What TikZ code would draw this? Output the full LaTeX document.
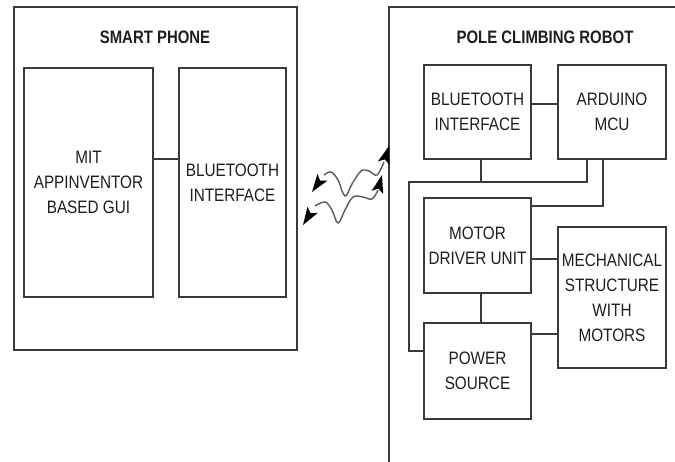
\documentclass[tikz,border=0pt]{standalone}
\usepackage{fontspec}
\setmainfont{Liberation Sans}[FakeStretch=0.85]
\newfontfamily\ttlfont{Liberation Sans}[FakeStretch=0.83]
\usetikzlibrary{arrows.meta,calc}
\definecolor{linec}{HTML}{3A3A3A}
\definecolor{txtc}{HTML}{1E1E1E}
\definecolor{wavec}{HTML}{5A5A5A}
\newcommand\myhead[2]{%
  \fill[black] (#1) -- ($($(#1)!18pt!(#2)$)!6pt!90:(#1)$) -- ($(#1)!14pt!(#2)$) -- ($($(#1)!18pt!(#2)$)!6pt!-90:(#1)$) -- cycle;}
\begin{document}
\begin{tikzpicture}[x=1pt,y=-1pt,
  blk/.style={draw=linec, line width=1.3pt, inner sep=0pt, align=center, text=txtc,
    font=\fontsize{18}{25}\selectfont},
  ttl/.style={text=txtc, font=\ttlfont\bfseries\fontsize{18}{20}\selectfont, inner sep=0pt},
  con/.style={draw=linec, line width=1.3pt},
  wave/.style={draw=wavec, line width=1.4pt}]
\useasboundingbox (0,0) rectangle (675,461);
\clip (0,0) rectangle (675,461);
\fill[white] (0,0) rectangle (675,461);
% smart phone
\node[blk, minimum width=283pt, minimum height=343pt] (phone) at (155.5,178.5) {};
\node[ttl] (phonet) at (155,37) {SMART PHONE};
\node[blk, minimum width=129pt, minimum height=229pt] (mit) at (88.5,182.5) {MIT\\APPINVENTOR\\BASED GUI};
\node[blk, minimum width=107pt, minimum height=229pt] (bt1) at (232.5,182.5) {BLUETOOTH\\INTERFACE};
\draw[con] ([yshift=23.5pt]mit.east) -- ([yshift=23.5pt]mit.east -| bt1.west);
% robot
\node[blk, minimum width=301pt, minimum height=473pt] (robot) at (539.5,243.5) {};
\node[ttl] (robott) at (545,37) {POLE CLIMBING ROBOT};
\node[blk, minimum width=107pt, minimum height=94pt] (bt2) at (477.5,112) {BLUETOOTH\\INTERFACE};
\node[blk, minimum width=108pt, minimum height=94pt] (ard) at (612,112) {ARDUINO\\MCU};
\node[blk, minimum width=107pt, minimum height=95pt] (mot) at (477.5,245.5) {MOTOR\\DRIVER UNIT};
\node[blk, minimum width=108pt, minimum height=141pt] (mech) at (612,297.5) {MECHANICAL\\STRUCTURE\\WITH\\MOTORS};
\node[blk, minimum width=107pt, minimum height=96pt] (pow) at (477.5,371) {POWER\\SOURCE};
\coordinate (j1) at (409,182);
\draw[con] ([yshift=8pt]bt2.east) -- ([yshift=8pt]bt2.east -| ard.west);
\draw[con] ([xshift=3.5pt]bt2.south) -- ([xshift=3.5pt]bt2.south |- j1);
\draw[con] ([xshift=-25pt]ard.south) |- (j1) |- ([yshift=20pt]pow.west);
\draw[con] ([xshift=-9pt]ard.south) |- ([yshift=39.5pt]mot.east);
\draw[con] ([yshift=-13.5pt]mot.east) -- ([yshift=-13.5pt]mot.east -| mech.west);
\draw[con] ([xshift=3.5pt]mot.south) -- ([xshift=3.5pt]pow.north);
\draw[con] ([yshift=37pt]pow.east) -- ([yshift=37pt]pow.east -| mech.west);
% wireless
\coordinate (ua) at (324,175); \coordinate (ub) at (384,162);
\coordinate (ut1) at (312,192); \coordinate (ut2) at (389,146);
\coordinate (la) at (315,206); \coordinate (lb) at (378,190);
\coordinate (lt1) at (303,225); \coordinate (lt2) at (382,175);
\draw[wave] plot[smooth, tension=0.6] coordinates {(ua) (331,172) (338,180) (345,196) (352,184) (361,171) (369,171) (377,175) (ub)};
\draw[wave] plot[smooth, tension=0.6] coordinates {(la) (325,202) (332,210) (338,223) (345,210) (353,197) (363,197) (372,199) (lb)};
\myhead{ut1}{ua}
\myhead{ut2}{ub}
\myhead{lt1}{la}
\myhead{lt2}{lb}
\end{tikzpicture}
\end{document}
